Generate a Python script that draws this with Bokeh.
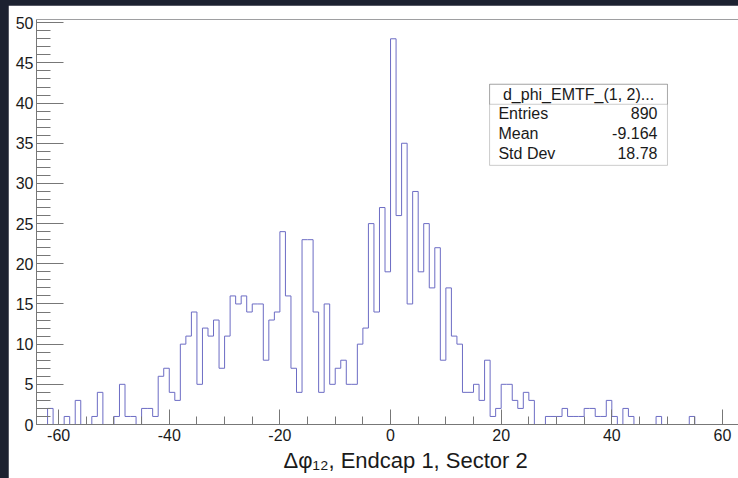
from bokeh.plotting import figure
from bokeh.models import (Range1d, SingleIntervalTicker, Span, BoxAnnotation, Label, Title,
                          PrintfTickFormatter)
from bokeh.embed import file_html
from bokeh.resources import INLINE

# ---- data -------------------------------------------------------------
bin_low = -64
bin_width = 1
counts = [
    0, 0, 2, 0, 0, 1, 0, 3, 0, 0,        # -64 .. -55
    1, 4, 0, 0, 1, 5, 1, 1, 0, 2,        # -54 .. -45
    2, 1, 6, 7, 4, 3, 10, 11, 14, 5,     # -44 .. -35
    12, 11, 13, 7, 11, 16, 15, 16, 14, 15,  # -34 .. -25
    15, 8, 13, 14, 24, 16, 7, 4, 23, 23,    # -24 .. -15
    14, 4, 15, 5, 7, 8, 5, 5, 10, 12,       # -14 .. -5
    25, 14, 27, 19, 48, 26, 35, 15, 29, 19,  # -4 .. 5
    25, 17, 22, 8, 17, 11, 10, 4, 4, 5,     # 6 .. 15
    3, 8, 1, 2, 5, 5, 3, 2, 4, 3,           # 16 .. 25
    0, 0, 1, 1, 1, 2, 1, 1, 1, 2,           # 26 .. 35
    2, 1, 1, 3, 1, 0, 2, 1, 0, 0,           # 36 .. 45
    0, 0, 1, 0, 0, 0, 0, 0, 1, 0,           # 46 .. 55
    0, 0, 0, 0, 0, 0, 0, 0,                 # 56 .. 63
]
stats_title = "d_phi_EMTF_(1, 2)..."
stats_names = ["Entries", "Mean", "Std Dev"]
stats_values = ["890", "-9.164", "18.78"]
x_title = "\u0394\u03c6\u2081\u2082, Endcap 1, Sector 2"

edges = [bin_low + i * bin_width for i in range(len(counts) + 1)]
step_y = counts + [0]

FONT = "Liberation Sans"
AXC = "#777777"
TXT = "#1a1a1a"

p = figure(width=730, height=473, output_backend="svg", toolbar_location=None,
           x_range=Range1d(-64, 62.9), y_range=Range1d(0, 50.4),
           min_border_left=28, min_border_right=0, min_border_top=14,
           min_border_bottom=54,
           background_fill_color="white", border_fill_color="white")
p.outline_line_color = None
p.grid.visible = False

xa = p.xaxis[0]
xa.ticker = SingleIntervalTicker(interval=20, num_minor_ticks=4)
xa.formatter = PrintfTickFormatter(format="%d")
xa.major_tick_in = 15
xa.major_tick_out = 0
xa.minor_tick_in = 8
xa.minor_tick_out = 0
xa.axis_line_color = AXC
xa.major_tick_line_color = AXC
xa.minor_tick_line_color = AXC
xa.major_label_text_font = FONT
xa.major_label_text_font_size = "16px"
xa.major_label_text_color = TXT
xa.major_label_standoff = 4

ya = p.yaxis[0]
ya.ticker = SingleIntervalTicker(interval=5, num_minor_ticks=5)
ya.formatter = PrintfTickFormatter(format="%d")
ya.major_tick_in = 27
ya.major_tick_out = 0
ya.minor_tick_in = 14
ya.minor_tick_out = 0
ya.axis_line_color = AXC
ya.major_tick_line_color = AXC
ya.minor_tick_line_color = AXC
ya.major_label_text_font = FONT
ya.major_label_text_font_size = "16px"
ya.major_label_text_color = TXT
ya.major_label_standoff = 3

# top frame line
p.add_layout(Span(location=50.4, dimension="width", line_color=AXC, line_width=1))

# histogram outline
p.step(x=edges, y=step_y, mode="after", line_color="#6c6cc4", line_width=1)

# x-axis title
p.add_layout(Title(text=x_title, align="left", offset=247, standoff=4,
                   text_font=FONT, text_font_size="22px", text_color=TXT,
                   text_font_style="normal"), "below")

# stats box
box_l, box_r, box_t, box_b, box_sep = 17.9, 50.06, 42.34, 32.25, 39.85
p.add_layout(BoxAnnotation(left=box_l, right=box_r, top=box_t, bottom=box_b,
                           fill_color="white", fill_alpha=1.0,
                           line_color="#555555", line_width=1))
p.add_layout(BoxAnnotation(left=box_l, right=box_r, top=box_t, bottom=box_sep,
                           fill_alpha=0.0, line_color="#555555", line_width=1))
p.add_layout(Label(x=(box_l + box_r) / 2, y=41.1, text=stats_title,
                   text_font=FONT, text_font_size="16px", text_color=TXT,
                   text_align="center", text_baseline="middle"))
row_y = [38.73, 36.24, 33.75]
for name, val, yy in zip(stats_names, stats_values, row_y):
    p.add_layout(Label(x=19.5, y=yy, text=name, text_font=FONT,
                       text_font_size="16px", text_color=TXT,
                       text_align="left", text_baseline="middle"))
    p.add_layout(Label(x=48.25, y=yy, text=val, text_font=FONT,
                       text_font_size="16px", text_color=TXT,
                       text_align="right", text_baseline="middle"))

html = file_html(p, INLINE)
style = ("<style>html,body{margin:0;}body{box-sizing:border-box;"
         "padding:5px 0 0 8px;background:#1c2130;overflow:hidden;}</style>")
html = html.replace("</head>", style + "</head>", 1)
open("out.html", "w").write(html)
